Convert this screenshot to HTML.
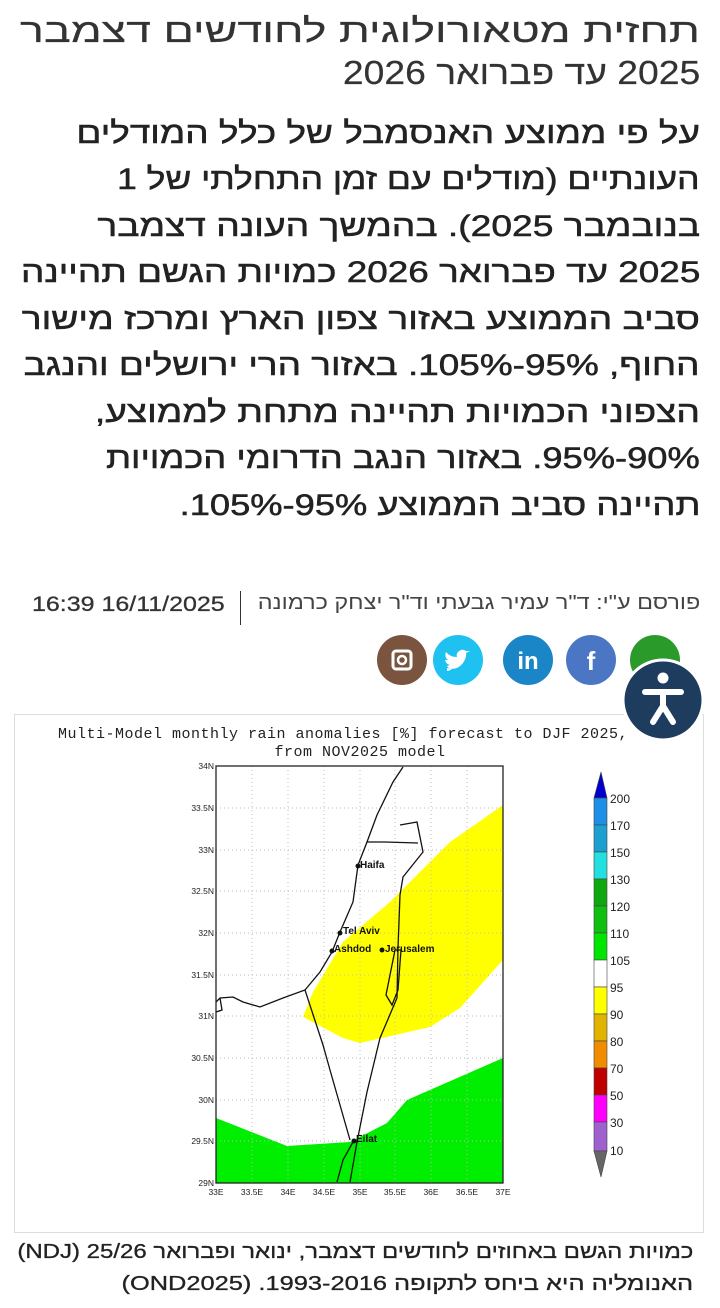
<!DOCTYPE html>
<html><head><meta charset="utf-8"><style>
body{margin:0;width:720px;height:1308px;background:#fff;position:relative;overflow:hidden;font-family:"Liberation Sans","DejaVu Sans",sans-serif;color:#222}
.l{position:absolute;right:20px;direction:rtl;white-space:nowrap;transform-origin:right center}
.p{font-size:30px;-webkit-text-stroke:0.5px #222;color:#222;transform:scaleX(1.23)}
.h{font-size:33px;color:#333;-webkit-text-stroke:0.2px #333}
.c{font-size:20px;color:#222;-webkit-text-stroke:0.3px #222}
</style></head><body>
<div class="l h" style="top:12px;transform:scaleX(1.36)">תחזית מטאורולוגית לחודשים דצמבר</div>
<div class="l h" style="top:54px;transform:scaleX(1.13)">2025 עד פברואר 2026</div>
<div class="l p" style="top:117px">על פי ממוצע האנסמבל של כלל המודלים</div>
<div class="l p" style="top:163px;transform:scaleX(1.18)">העונתיים (מודלים עם זמן התחלתי של 1</div>
<div class="l p" style="top:210px;transform:scaleX(1.24)">בנובמבר 2025). בהמשך העונה דצמבר</div>
<div class="l p" style="top:256px">2025 עד פברואר 2026 כמויות הגשם תהיינה</div>
<div class="l p" style="top:303px;transform:scaleX(1.24)">סביב הממוצע באזור צפון הארץ ומרכז מישור</div>
<div class="l p" style="top:349px">החוף, 95%-105%. באזור הרי ירושלים והנגב</div>
<div class="l p" style="top:396px;transform:scaleX(1.24)">הצפוני הכמויות תהיינה מתחת לממוצע,</div>
<div class="l p" style="top:442px;transform:scaleX(1.21)">90%-95%. באזור הנגב הדרומי הכמויות</div>
<div class="l p" style="top:489px;transform:scaleX(1.21)">תהיינה סביב הממוצע 95%-105%.</div>
<div class="l" style="top:592px;font-size:20px;color:#444;transform:scaleX(1.17)">פורסם ע"י: ד"ר עמיר גבעתי וד"ר יצחק כרמונה</div>
<div style="position:absolute;left:240px;top:591px;width:1px;height:34px;background:#333"></div>
<div style="position:absolute;left:32px;top:593px;font-size:21px;color:#333;transform:scaleX(1.19);transform-origin:left center;-webkit-text-stroke:0.3px #333">16:39 16/11/2025</div>
<svg style="position:absolute;left:0;top:0" width="720" height="1308">
<circle cx="402" cy="660" r="25" fill="#7b5440"/><rect x="393" y="651" width="18" height="18" rx="3" fill="none" stroke="#fff" stroke-width="3"/><circle cx="402" cy="660" r="4" fill="none" stroke="#fff" stroke-width="2.5"/>
<circle cx="458" cy="660" r="25" fill="#1fc1f0"/><path d="M447,668 q10,3 16,-5 q4,-6 3,-10 l4,-2 l-4,0 q-4,-3 -8,1 q-2,2 -1,5 q-7,0 -11,-5 q-2,5 2,8 l-3,0 q1,4 5,5 l-3,1 q2,3 5,3 q-3,2 -5,2z" fill="#fff"/>
<circle cx="528" cy="660" r="25" fill="#1a86c8"/><text x="528" y="669" font-size="24" fill="#fff" text-anchor="middle" font-weight="bold" font-family="Liberation Sans">in</text>
<circle cx="591" cy="660" r="25" fill="#4a76c4"/><text x="591" y="670" font-size="26" fill="#fff" text-anchor="middle" font-weight="bold" font-family="Liberation Sans">f</text>
<circle cx="655" cy="660" r="25" fill="#2a9a2a"/>
<rect x="14.5" y="714.5" width="689" height="518" fill="#fff" stroke="#ddd"/>
<text x="343" y="738" font-family="Liberation Mono" font-size="15" text-anchor="middle" fill="#222" letter-spacing="0.5">Multi-Model monthly rain anomalies [%] forecast to DJF 2025,</text>
<text x="360" y="756" font-family="Liberation Mono" font-size="15" text-anchor="middle" fill="#222" letter-spacing="0.5">from NOV2025 model</text>
<g>
<rect x="216" y="766" width="287" height="417" fill="#fff"/>
<polygon points="303,1017 343,1038 360,1043 430,1027 460,1008 503,960 503,805 450,842 390,902 343,942 313,992" fill="#ffff00"/>
<polygon points="216,1118 287,1146 350,1142 387,1123 407,1100 503,1058 503,1183 216,1183" fill="#00ee00"/>
<g stroke="#bbb" stroke-dasharray="1,3" stroke-width="1">
<line x1="252" y1="766" x2="252" y2="1183"/><line x1="288" y1="766" x2="288" y2="1183"/><line x1="324" y1="766" x2="324" y2="1183"/><line x1="360" y1="766" x2="360" y2="1183"/><line x1="395" y1="766" x2="395" y2="1183"/><line x1="431" y1="766" x2="431" y2="1183"/><line x1="467" y1="766" x2="467" y2="1183"/>
<line x1="216" y1="808" x2="503" y2="808"/><line x1="216" y1="850" x2="503" y2="850"/><line x1="216" y1="891" x2="503" y2="891"/><line x1="216" y1="933" x2="503" y2="933"/><line x1="216" y1="975" x2="503" y2="975"/><line x1="216" y1="1016" x2="503" y2="1016"/><line x1="216" y1="1058" x2="503" y2="1058"/><line x1="216" y1="1100" x2="503" y2="1100"/><line x1="216" y1="1141" x2="503" y2="1141"/>
</g>
<g fill="none" stroke="#111" stroke-width="1.3">
<polyline points="403,767 393,782 377,815 367,842 358,865 353,902 340,932 332,952 320,972 305,990 283,998 260,1007 243,1002 233,997 220,998 216,1002"/>
<polyline points="305,990 323,1045 330,1070 350,1140"/>
<polyline points="367,842 385,842 418,843"/>
<polyline points="400,825 417,822 423,852 403,877 400,895 398,948 397,998 380,1038 367,1092 357,1142 350,1182"/>
<polyline points="337,1182 343,1160 353,1142"/>
<polyline points="395,950 401,950 398,990 392,1005 386,995 390,975 395,950"/>
<polyline points="220,998 222,1010 216,1012"/>
</g>
<rect x="216" y="766" width="287" height="417" fill="none" stroke="#222" stroke-width="1.3"/>
<g fill="#111"><circle cx="358" cy="866" r="2.5"/><circle cx="340" cy="933" r="2.5"/><circle cx="332" cy="951" r="2.5"/><circle cx="382" cy="950" r="2.5"/><circle cx="354" cy="1141" r="2.5"/></g>
<g font-family="Liberation Sans" font-size="10" fill="#111" font-weight="bold">
<text x="360" y="868">Haifa</text><text x="343" y="934">Tel  Aviv</text><text x="334" y="952">Ashdod</text><text x="385" y="952">Jerusalem</text><text x="356" y="1142">Eilat</text></g>
<g font-family="Liberation Sans" font-size="8.5" fill="#222" text-anchor="end">
<text x="214" y="769">34N</text><text x="214" y="811">33.5N</text><text x="214" y="853">33N</text><text x="214" y="894">32.5N</text><text x="214" y="936">32N</text><text x="214" y="978">31.5N</text><text x="214" y="1019">31N</text><text x="214" y="1061">30.5N</text><text x="214" y="1103">30N</text><text x="214" y="1144">29.5N</text><text x="214" y="1186">29N</text></g>
<g font-family="Liberation Sans" font-size="8.5" fill="#222" text-anchor="middle">
<text x="216" y="1195">33E</text><text x="252" y="1195">33.5E</text><text x="288" y="1195">34E</text><text x="324" y="1195">34.5E</text><text x="360" y="1195">35E</text><text x="395" y="1195">35.5E</text><text x="431" y="1195">36E</text><text x="467" y="1195">36.5E</text><text x="503" y="1195">37E</text></g>
</g>
<g stroke="#444" stroke-width="0.6">
<polygon points="601,772 594,798 607,798" fill="#0000cc"/>
<rect x="594" y="798" width="13" height="27" fill="#1e8fe6"/>
<rect x="594" y="825" width="13" height="27" fill="#1ca0d0"/>
<rect x="594" y="852" width="13" height="27" fill="#22e0e0"/>
<rect x="594" y="879" width="13" height="27" fill="#10a810"/>
<rect x="594" y="906" width="13" height="27" fill="#10c010"/>
<rect x="594" y="933" width="13" height="27" fill="#00e600"/>
<rect x="594" y="960" width="13" height="27" fill="#fff"/>
<rect x="594" y="987" width="13" height="27" fill="#ffff00"/>
<rect x="594" y="1014" width="13" height="27" fill="#e0b400"/>
<rect x="594" y="1041" width="13" height="27" fill="#f08c00"/>
<rect x="594" y="1068" width="13" height="27" fill="#c00000"/>
<rect x="594" y="1095" width="13" height="27" fill="#ff00ff"/>
<rect x="594" y="1122" width="13" height="29" fill="#a060d0"/>
<polygon points="594,1151 607,1151 601,1177" fill="#666"/>
</g>
<g font-family="Liberation Sans" font-size="12" fill="#222">
<text x="610" y="803">200</text><text x="610" y="830">170</text><text x="610" y="857">150</text><text x="610" y="884">130</text><text x="610" y="911">120</text><text x="610" y="938">110</text><text x="610" y="965">105</text><text x="610" y="992">95</text><text x="610" y="1019">90</text><text x="610" y="1046">80</text><text x="610" y="1073">70</text><text x="610" y="1100">50</text><text x="610" y="1127">30</text><text x="610" y="1155">10</text></g>
<circle cx="663" cy="700" r="40" fill="#1d3c5e" stroke="#fff" stroke-width="3"/>
<g stroke="#fff" stroke-width="6" stroke-linecap="round" fill="none"><line x1="645" y1="692" x2="681" y2="692"/><line x1="663" y1="694" x2="663" y2="706"/><line x1="663" y1="706" x2="653" y2="722"/><line x1="663" y1="706" x2="673" y2="722"/></g>
<circle cx="663" cy="678" r="5.5" fill="#fff"/>
</svg>
<div class="l c" style="right:27px;top:1241px;transform:scaleX(1.2)">כמויות הגשם באחוזים לחודשים דצמבר, ינואר ופברואר 25/26 (NDJ)</div>
<div class="l c" style="right:27px;top:1273px;transform:scaleX(1.27)">האנומליה היא ביחס לתקופה 1993-2016. (OND2025)</div>
</body></html>
